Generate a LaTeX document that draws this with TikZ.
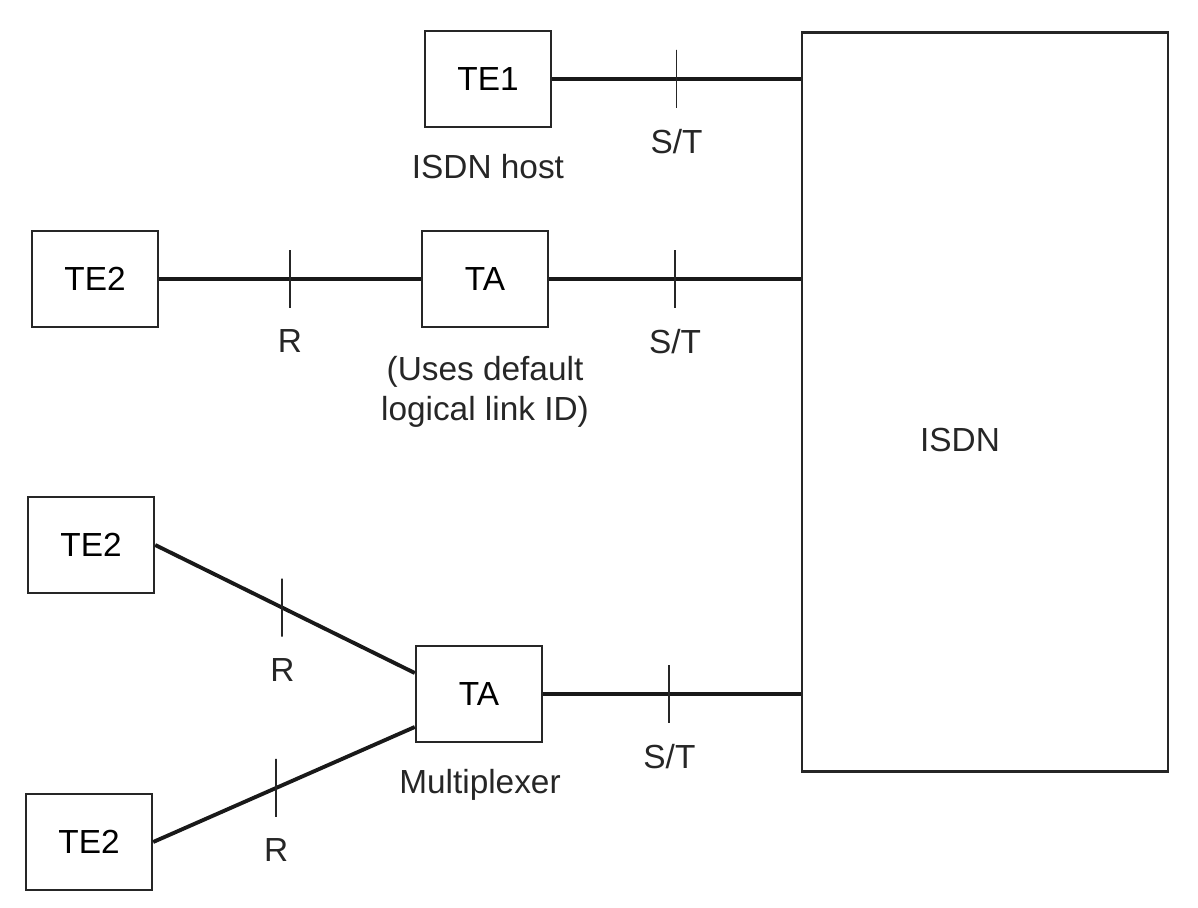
\documentclass[tikz,border=0pt]{standalone}
\usepackage{fontspec}
\setsansfont{Liberation Sans}
\usetikzlibrary{positioning}

\begin{document}
\begin{tikzpicture}[
        x=0.02cm, y=-0.02cm,
        font=\sffamily\fontsize{19}{23}\selectfont,
        % Styles
        unit/.style={rectangle, draw=black!85, line width=1.4pt, minimum width=2.52cm, minimum height=1.92cm, inner sep=0pt},
        network/.style={rectangle, draw=black!85, line width=1.4pt, minimum width=7.32cm, minimum height=14.78cm},
        link/.style={draw=black!90, line width=2.2pt},
        tick/.style={rectangle, draw=black!85, line width=1.1pt, minimum width=0pt, minimum height=1.16cm, inner sep=0pt},
        note/.style={align=center, text=black!85},
        ticklbl/.style={note, yshift=-0.26cm}
    ]
    \useasboundingbox (0,0) rectangle (1198,908);

    % ================= NETWORK =================
    \node[network] (isdn) at (985,402) {};
    \node[note] (isdnlbl) at (960,440) {ISDN};

    % ================= TERMINALS / ADAPTERS =================
    \node[unit] (te1) at (488,79) {TE1};
    \node[unit] (te2a) at (95,279) {TE2};
    \node[unit] (ta1) at (485,279) {TA};
    \node[unit] (te2b) at (91,545) {TE2};
    \node[unit] (ta2) at (479,694) {TA};
    \node[unit] (te2c) at (89,842) {TE2};

    % ================= LINKS =================
    % reference points are ticks at the middle of each link, label under the tick
    \draw[link] (te1.east) -- node[tick, label={[ticklbl]below:S/T}] (st1) {} (te1.east -| isdn.west);
    \draw[link] (te2a.east) -- node[tick, label={[ticklbl]below:R}] (r1) {} (ta1.west);
    \draw[link] (ta1.east) -- node[tick, label={[ticklbl]below:S/T}] (st2) {} (ta1.east -| isdn.west);
    \draw[link] (te2b.east) -- node[tick, pos=0.49, label={[ticklbl]below:R}] (r2) {} ([yshift=0.42cm]ta2.west);
    \draw[link] (te2c.east) -- node[tick, pos=0.47, label={[ticklbl]below:R}] (r3) {} ([yshift=-0.66cm]ta2.west);
    \draw[link] (ta2.east) -- node[tick, pos=0.49, label={[ticklbl]below:S/T}] (st3) {} (ta2.east -| isdn.west);

    % ================= NOTES =================
    \node[note] (hostlbl) at (488,167) {ISDN host};
    \node[note] (defaultlbl) at (485,392) {(Uses default\\logical link ID)};
    \node[note] (muxlbl) at (480,785) {Multiplexer};

\end{tikzpicture}
\end{document}
